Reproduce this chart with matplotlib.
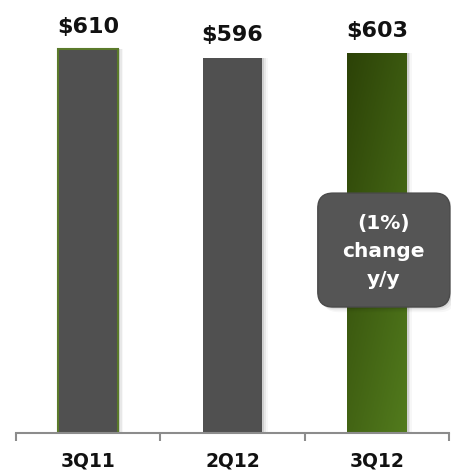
import numpy as np
import matplotlib
matplotlib.use('Agg')
import matplotlib.pyplot as plt
from matplotlib.colors import LinearSegmentedColormap
from matplotlib.patches import FancyBboxPatch

categories = ['3Q11', '2Q12', '3Q12']
values = [610, 596, 603]
value_labels = ['$610', '$596', '$603']
callout_text = '(1%)\nchange\ny/y'

gray = '#505050'
edge_green = '#5b7a2b'

fig = plt.figure(figsize=(4.51, 4.74), dpi=100)
ax = fig.add_axes([16 / 451, 41 / 474, 433 / 451, 433 / 474])

x = np.arange(len(categories))
bars = ax.bar(x, values, width=0.415, color=gray, zorder=3)
bars[0].set_edgecolor(edge_green)
bars[0].set_linewidth(1.5)

# soft shadow to the right of each bar
for b in bars:
    for i, a in enumerate([0.10, 0.06, 0.03]):
        ax.bar(b.get_x() + b.get_width() / 2 + 0.012 * (i + 1), b.get_height(),
               width=b.get_width(), color='black', alpha=a, zorder=2, linewidth=0)

# gradient fill on the last bar
last = bars[2]
last.set_facecolor('none')
bx, bw, bh = last.get_x(), last.get_width(), last.get_height()
gx = np.linspace(0, 1, 60)
gy = np.linspace(0, 1, 200)[:, None]
grad = 0.4 * gx[None, :] + 0.6 * gy
cmap = LinearSegmentedColormap.from_list('g', ['#2c4207', '#527b1d'])
img = ax.imshow(grad, extent=[bx, bx + bw, 0, bh], origin='upper', cmap=cmap,
                aspect='auto', zorder=3, vmin=0, vmax=1)
img.set_clip_path(last)

for b, lab in zip(bars, value_labels):
    ax.annotate(lab, (b.get_x() + b.get_width() / 2, b.get_height()),
                xytext=(0, 9), textcoords='offset points', ha='center', va='bottom',
                fontsize=16, fontweight='bold', color='#111111')

# callout box (axes is square, so axes coords keep corners round)
bx0, by0, bw0, bh0, r = 0.697, 0.291, 0.305, 0.263, 0.035
for i, a in enumerate([0.08, 0.05, 0.03]):
    d = 0.004 * (i + 1)
    ax.add_patch(FancyBboxPatch((bx0 + r + d, by0 + r - d), bw0 - 2 * r, bh0 - 2 * r,
                                boxstyle=f'round,pad={r}', transform=ax.transAxes,
                                fc='black', ec='none', alpha=a, zorder=5, clip_on=False))
ax.add_patch(FancyBboxPatch((bx0 + r, by0 + r), bw0 - 2 * r, bh0 - 2 * r,
                            boxstyle=f'round,pad={r}', transform=ax.transAxes,
                            fc='#555555', ec='#4a4a4a', lw=1, zorder=6, clip_on=False))
ax.text(bx0 + bw0 / 2, by0 + bh0 / 2 - 0.003, callout_text, transform=ax.transAxes,
        ha='center', va='center', fontsize=14.5, fontweight='bold', color='white',
        linespacing=1.62, zorder=7)

ax.set_xlim(-0.5, 2.5)
ax.set_ylim(0, 688)
for s in ['top', 'right', 'left']:
    ax.spines[s].set_visible(False)
ax.spines['bottom'].set_color('#8c8c8c')
ax.spines['bottom'].set_linewidth(1.5)
ax.spines['bottom'].set_zorder(5)
ax.set_yticks([])
ax.set_xticks(x)
ax.set_xticklabels(categories, fontsize=13.5, fontweight='bold', color='#111111')
ax.tick_params(axis='x', which='major', length=0, pad=13)
ax.set_xticks([-0.5, 0.5, 1.5, 2.5], minor=True)
ax.tick_params(axis='x', which='minor', length=6, width=1.5, color='#8c8c8c')
ax.patch.set_alpha(0)

fig.savefig('out.png', dpi=100)
